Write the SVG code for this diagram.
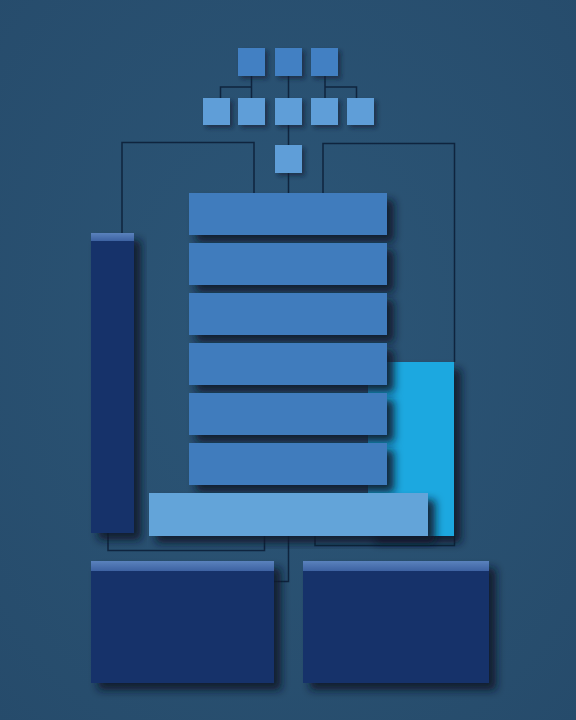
<svg xmlns="http://www.w3.org/2000/svg" width="576" height="720" viewBox="0 0 576 720">
  <defs>
    <radialGradient id="bg" cx="50%" cy="45%" r="75%">
      <stop offset="0" stop-color="#2c5677"/>
      <stop offset="1" stop-color="#264b6b"/>
    </radialGradient>
    <linearGradient id="cap" x1="0" y1="0" x2="0" y2="1">
      <stop offset="0" stop-color="#5a82bd"/>
      <stop offset="1" stop-color="#3d62a2"/>
    </linearGradient>
    <filter id="sh" x="-20%" y="-20%" width="150%" height="150%">
      <feDropShadow dx="7" dy="7" stdDeviation="4" flood-color="#08172b" flood-opacity="0.9"/>
    </filter>
    <filter id="shs" x="-30%" y="-30%" width="170%" height="170%">
      <feDropShadow dx="3" dy="3" stdDeviation="2" flood-color="#0a1a30" flood-opacity="0.6"/>
    </filter>
  </defs>
  <style>
    .ln { fill: none; stroke: #0f243e; stroke-width: 1.5; }
    .sq1 { fill: #4380c3; filter: url(#shs); }
    .sq2 { fill: #5e9ed8; filter: url(#shs); }
    .bar { fill: #3f7cbd; filter: url(#sh); }
    .navy { fill: #12336b; filter: url(#sh); }
    .cap { fill: url(#cap); }
    .cyan { fill: #1aa8e0; filter: url(#sh); }
    .light { fill: #63a4d9; filter: url(#sh); }
  </style>
  <rect width="576" height="720" fill="url(#bg)"/>

  <g id="connectors">
    <path class="ln" d="M251.5,76 V125 M251.5,87 H220.5 V98"/>
    <path class="ln" d="M288.5,76 V98"/>
    <path class="ln" d="M325,76 V98 M325,87 H356.5 V98"/>
    <path class="ln" d="M288.5,125 V145"/>
    <path class="ln" d="M288.5,173 V193"/>
    <path class="ln" d="M254,193 V142.5 H122 V233"/>
    <path class="ln" d="M323,193 V143.5 H454.5 V362"/>
    <path class="ln" d="M108,533 V550.5 H264.5 V536"/>
    <path class="ln" d="M288.5,536 V581.5 H274"/>
    <path class="ln" d="M315,536 V545.5 H454.5 V536"/>
  </g>

  <g id="top-row">
    <rect id="t1" class="sq1" x="238" y="48" width="27" height="28"/>
    <rect id="t2" class="sq1" x="275" y="48" width="27" height="28"/>
    <rect id="t3" class="sq1" x="311" y="48" width="27" height="28"/>
  </g>
  <g id="second-row">
    <rect id="s1" class="sq2" x="203" y="98" width="27" height="27"/>
    <rect id="s2" class="sq2" x="238" y="98" width="27" height="27"/>
    <rect id="s3" class="sq2" x="275" y="98" width="27" height="27"/>
    <rect id="s4" class="sq2" x="311" y="98" width="27" height="27"/>
    <rect id="s5" class="sq2" x="347" y="98" width="27" height="27"/>
  </g>
  <g id="third">
    <rect class="sq2" x="275" y="145" width="27" height="28"/>
  </g>

  <g id="left-column">
    <rect class="navy" x="91" y="233" width="43" height="300"/>
    <rect class="cap" x="91" y="233" width="43" height="8"/>
  </g>

  <g id="cyan-block">
    <rect class="cyan" x="368" y="362" width="86" height="174"/>
  </g>

  <g id="stack">
    <rect id="b1" class="bar" x="189" y="193" width="198" height="42"/>
    <rect id="b2" class="bar" x="189" y="243" width="198" height="42"/>
    <rect id="b3" class="bar" x="189" y="293" width="198" height="42"/>
    <rect id="b4" class="bar" x="189" y="343" width="198" height="42"/>
    <rect id="b5" class="bar" x="189" y="393" width="198" height="42"/>
    <rect id="b6" class="bar" x="189" y="443" width="198" height="42"/>
  </g>

  <g id="base-bar">
    <rect class="light" x="149" y="493" width="279" height="43"/>
  </g>

  <g id="box-left">
    <rect class="navy" x="91" y="561" width="183" height="122"/>
    <rect class="cap" x="91" y="561" width="183" height="10"/>
  </g>
  <g id="box-right">
    <rect class="navy" x="303" y="561" width="186" height="122"/>
    <rect class="cap" x="303" y="561" width="186" height="10"/>
  </g>
</svg>
